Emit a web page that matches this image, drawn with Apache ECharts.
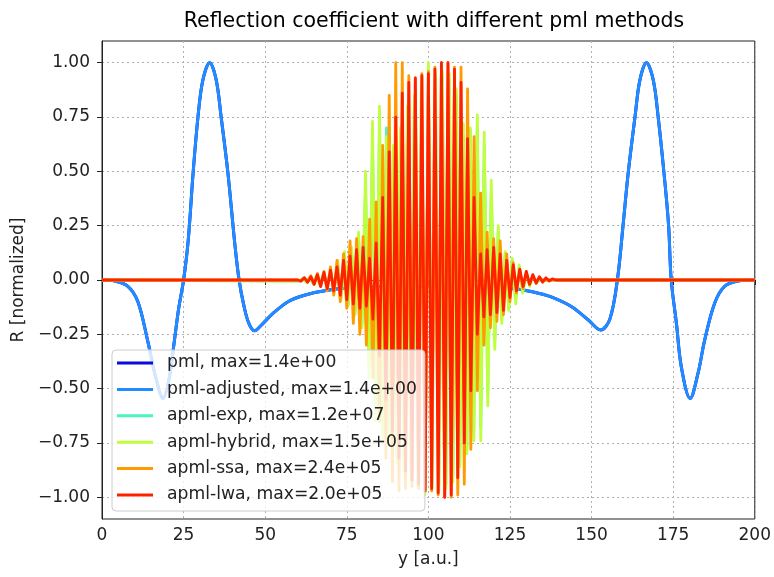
<!DOCTYPE html>
<html>
<head>
<meta charset="utf-8">
<script src="https://cdn.jsdelivr.net/npm/echarts@6/dist/echarts.min.js"></script>
<style>
  html, body { margin: 0; padding: 0; background: #fff; }
  #chart { width: 774px; height: 577px; }
</style>
</head>
<body>
<div id="chart"></div>
<script>
// smooth reflection curve (pml and pml-adjusted lie on top of each other)
const pmlX = [0, 4, 8, 11, 14, 16.5, 18.7, 20.5, 22, 23.5, 25, 26.4, 27.9, 29.4, 30.9, 33, 35, 36.5, 38.6, 40.6, 42,
  43.5, 45, 46.7, 49, 52.3, 57, 62, 70, 78, 90, 100, 110, 120, 127.6, 133.7, 138, 143.9, 149, 152.8, 155.6, 157.9,
  159.7, 161.2, 163.3, 164.8, 166.8, 168.9, 170.4, 172.2, 173.6, 174.4, 176, 177.5, 180.2, 182.6, 184.6, 187.7,
  190.7, 194.8, 200];
const pmlY = [0, -0.005, -0.03, -0.1, -0.28, -0.45, -0.545, -0.46, -0.3, -0.13, 0, 0.18, 0.49, 0.75, 0.92, 1.0, 0.92,
  0.75, 0.49, 0.18, 0, -0.12, -0.2, -0.234, -0.205, -0.155, -0.1, -0.07, -0.045, -0.035, -0.03, -0.03, -0.03, -0.035,
  -0.043, -0.061, -0.08, -0.123, -0.184, -0.23, -0.18, 0, 0.26, 0.49, 0.75, 0.92, 1.0, 0.92, 0.75, 0.49, 0.25, 0,
  -0.2, -0.4, -0.545, -0.43, -0.28, -0.107, -0.03, -0.005, 0];

// ssa and lwa: one sample per half period
const oscX = [60, 61, 62, 63, 64, 65, 66, 67, 68, 69, 70, 71, 72, 73, 74, 75, 76, 77, 78, 79, 80,
  81, 82, 83, 84, 85, 86, 87, 88, 89, 90, 91, 92, 93, 94, 95, 96, 97, 98, 99, 100,
  101, 102, 103, 104, 105, 106, 107, 108, 109, 110, 111, 112, 113, 114, 115, 116, 117, 118, 119, 120,
  121, 122, 123, 124, 125, 126, 127, 128, 129, 130, 131, 132, 133, 134, 135, 136, 137, 138, 139, 140];

// exp and hybrid oscillate a little slower, peaks
const slowX = [60.41, 61.48, 62.55, 63.62, 64.69, 65.76, 66.83, 67.9, 68.97, 70.04, 71.11, 72.18, 73.25,
  74.32, 75.39, 76.46, 77.53, 78.6, 79.67, 80.74, 81.81, 82.88, 83.95, 85.02, 86.09, 87.16, 88.23,
  89.3, 90.37, 91.44, 92.51, 93.58, 94.65, 95.72, 96.79, 97.86, 98.93, 100, 101.07, 102.14, 103.21,
  104.28, 105.35, 106.42, 107.49, 108.56, 109.63, 110.7, 111.77, 112.84, 113.91, 114.98, 116.05,
  117.12, 118.19, 119.26, 120.33, 121.4, 122.47, 123.54, 124.61, 125.68, 126.75, 127.82, 128.89,
  129.96, 131.03, 132.1, 133.17, 134.24, 135.31, 136.38, 137.45, 138.52, 139.59];

const expY = [-0.005, 0.008, -0.01, 0.012, -0.015, 0.02, -0.02, 0.03, -0.03, 0.045, -0.05, 0.08, -0.08,
  0.11, -0.11, 0.14, -0.15, 0.2, -0.2, 0.42, -0.4, 0.62, -0.58, 0.7, -0.7, 0.7, -0.72,
  0.6, -0.8, 0.66, -0.84, 0.76, -0.88, 0.82, -0.92, 0.88, -0.98, 0.96, -0.95, 0.93, -0.95,
  0.94, -0.94, 0.92, -0.9, 0.85, -0.82, 0.66, -0.78, 0.69, -0.7, 0.7, -0.68,
  0.62, -0.52, 0.4, -0.28, 0.22, -0.18, 0.12, -0.13, 0.09, -0.09, 0.06, -0.05,
  0.03, -0.02, 0.015, -0.01, 0, 0, 0, 0, 0, 0];

const hybridY = [-0.005, 0.008, -0.01, 0.012, -0.015, 0.02, -0.025, 0.03, -0.035, 0.05, -0.06, 0.09, -0.09,
  0.13, -0.12, 0.15, -0.16, 0.22, -0.22, 0.5, -0.45, 0.73, -0.65, 0.8, -0.75, 0.66, -0.76,
  0.62, -0.84, 0.7, -0.88, 0.8, -0.92, 0.85, -0.95, 0.9, -0.99, 1.0, -0.97, 0.95, -0.97,
  0.96, -0.96, 0.95, -0.93, 0.88, -0.86, 0.72, -0.8, 0.7, -0.74, 0.76, -0.74,
  0.68, -0.58, 0.46, -0.32, 0.25, -0.2, 0.13, -0.14, 0.1, -0.11, 0.07, -0.06,
  0.04, -0.03, 0.02, -0.015, 0.01, -0.005, 0, 0, 0, 0];

const ssaY = [0, -0.005, 0.01, -0.01, 0.02, -0.02, 0.03, -0.03, 0.04, -0.05, 0.06,
  -0.07, 0.09, -0.1, 0.12, -0.13, 0.18, -0.2, 0.19, -0.25, 0.2,
  -0.3, 0.28, -0.45, 0.36, -0.65, 0.62, -0.82, 0.85, -0.93, 1.0,
  -0.97, 1.0, -0.96, 0.94, -0.95, 0.93, -0.96, 0.95, -0.97, 0.96,
  -0.97, 0.98, -0.99, 1.0, -1.0, 1.0, -1.0, 0.98, -0.99, 0.98,
  -0.94, 0.88, -0.78, 0.66, -0.51, 0.4, -0.3, 0.22, -0.22, 0.19,
  -0.19, 0.18, -0.16, 0.12, -0.1, 0.08, -0.06, 0.05, -0.04, 0.03,
  -0.02, 0.02, -0.01, 0.01, 0, 0, 0, 0, 0, 0];

const lwaY = [0, -0.005, 0.01, -0.01, 0.015, -0.02, 0.025, -0.03, 0.035, -0.04, 0.045,
  -0.05, 0.06, -0.07, 0.09, -0.09, 0.11, -0.11, 0.14, -0.13, 0.15,
  -0.12, 0.1, -0.18, 0.17, -0.35, 0.38, -0.55, 0.59, -0.7, 0.75,
  -0.82, 0.86, -0.88, 0.91, -0.92, 0.93, -0.94, 0.94, -0.97, 0.95,
  -0.96, 0.97, -0.98, 1.0, -1.0, 1.0, -0.99, 0.97, -0.91, 0.91,
  -0.75, 0.65, -0.51, 0.38, -0.25, 0.12, -0.17, 0.14, -0.16, 0.15,
  -0.15, 0.12, -0.14, 0.09, -0.08, 0.07, -0.05, 0.05, -0.03, 0.04,
  -0.02, 0.025, -0.015, 0.015, -0.01, 0.01, -0.005, 0.005, 0, 0];

const seriesNames = [
  "pml, max=1.4e+00",
  "pml-adjusted, max=1.4e+00",
  "apml-exp, max=1.2e+07",
  "apml-hybrid, max=1.5e+05",
  "apml-ssa, max=2.4e+05",
  "apml-lwa, max=2.0e+05"
];
const seriesColors = ["#0a0ae0", "#1f8cff", "#48f5c2", "#bfff3f", "#ff9a00", "#ff2000"];

const yTicks = [-1, -0.75, -0.5, -0.25, 0, 0.25, 0.5, 0.75, 1];

const pairs = (xs, ys) => xs.map((x, i) => [x, ys[i]]);
// flat zero outside the oscillating region
const padded = (xs, ys) => [[0, 0]].concat(pairs(xs, ys), [[200, 0]]);

const font = "DejaVu Sans";
const ink = "#222";

const option = {
  animation: false,
  title: {
    text: "Reflection coefficient with different pml methods",
    left: 429,
    textAlign: "center",
    top: 6,
    textStyle: { fontFamily: font, fontSize: 20.5, fontWeight: "normal", color: "#000" }
  },
  grid: {
    left: 102, right: 17, top: 41, bottom: 58,
    show: true, borderColor: ink, borderWidth: 1, backgroundColor: "#fff"
  },
  legend: {
    orient: "vertical",
    left: 112,
    top: 350,
    padding: [3, 8, 6, 5],
    itemGap: 6.4,
    itemWidth: 36,
    itemHeight: 3,
    icon: "rect",
    backgroundColor: "rgba(255,255,255,0.8)",
    borderColor: "#cccccc",
    borderWidth: 1,
    borderRadius: 4,
    textStyle: { fontFamily: font, fontSize: 17.2, lineHeight: 20, color: ink, padding: [0, 0, 0, 9] },
    data: seriesNames
  },
  xAxis: {
    type: "value",
    min: 0, max: 200, interval: 25,
    name: "y [a.u.]",
    nameLocation: "middle",
    nameGap: 32,
    nameTextStyle: { fontFamily: font, fontSize: 17, color: ink },
    axisLine: { show: true, lineStyle: { color: ink } },
    axisTick: { show: true, length: 5, lineStyle: { color: ink } },
    axisLabel: { fontFamily: font, fontSize: 17, color: ink, margin: 8 },
    splitLine: { show: true, lineStyle: { color: "#b0b0b0", type: [2, 3], width: 1 } }
  },
  yAxis: {
    type: "value",
    min: -1.1, max: 1.1,
    name: "R [normalized]",
    nameLocation: "middle",
    nameGap: 74,
    nameTextStyle: { fontFamily: font, fontSize: 17, color: ink },
    axisLine: { show: true, lineStyle: { color: ink } },
    axisTick: { show: true, length: 5, lineStyle: { color: ink }, customValues: yTicks },
    axisLabel: {
      fontFamily: font, fontSize: 17, color: ink, margin: 12,
      customValues: yTicks,
      formatter: (v) => v.toFixed(2).replace("-", "\u2212")
    },
    splitLine: { show: true, lineStyle: { color: "#b0b0b0", type: [2, 3], width: 1 } }
  },
  series: [
    { name: seriesNames[0], data: pairs(pmlX, pmlY), smooth: 0.35, width: 3 },
    { name: seriesNames[1], data: pairs(pmlX, pmlY), smooth: 0.35, width: 3 },
    { name: seriesNames[2], data: padded(slowX, expY), smooth: false, width: 2.8 },
    { name: seriesNames[3], data: padded(slowX, hybridY), smooth: false, width: 2.8 },
    { name: seriesNames[4], data: padded(oscX, ssaY), smooth: false, width: 2.8 },
    { name: seriesNames[5], data: padded(oscX, lwaY), smooth: false, width: 2.8 }
  ].map((s, i) => ({
    type: "line",
    name: s.name,
    data: s.data,
    smooth: s.smooth,
    showSymbol: false,
    color: seriesColors[i],
    lineStyle: { color: seriesColors[i], width: s.width, join: "round" }
  }))
};

const chart = echarts.init(document.getElementById("chart"), null, { renderer: "canvas" });
chart.setOption(option);
</script>
</body>
</html>
